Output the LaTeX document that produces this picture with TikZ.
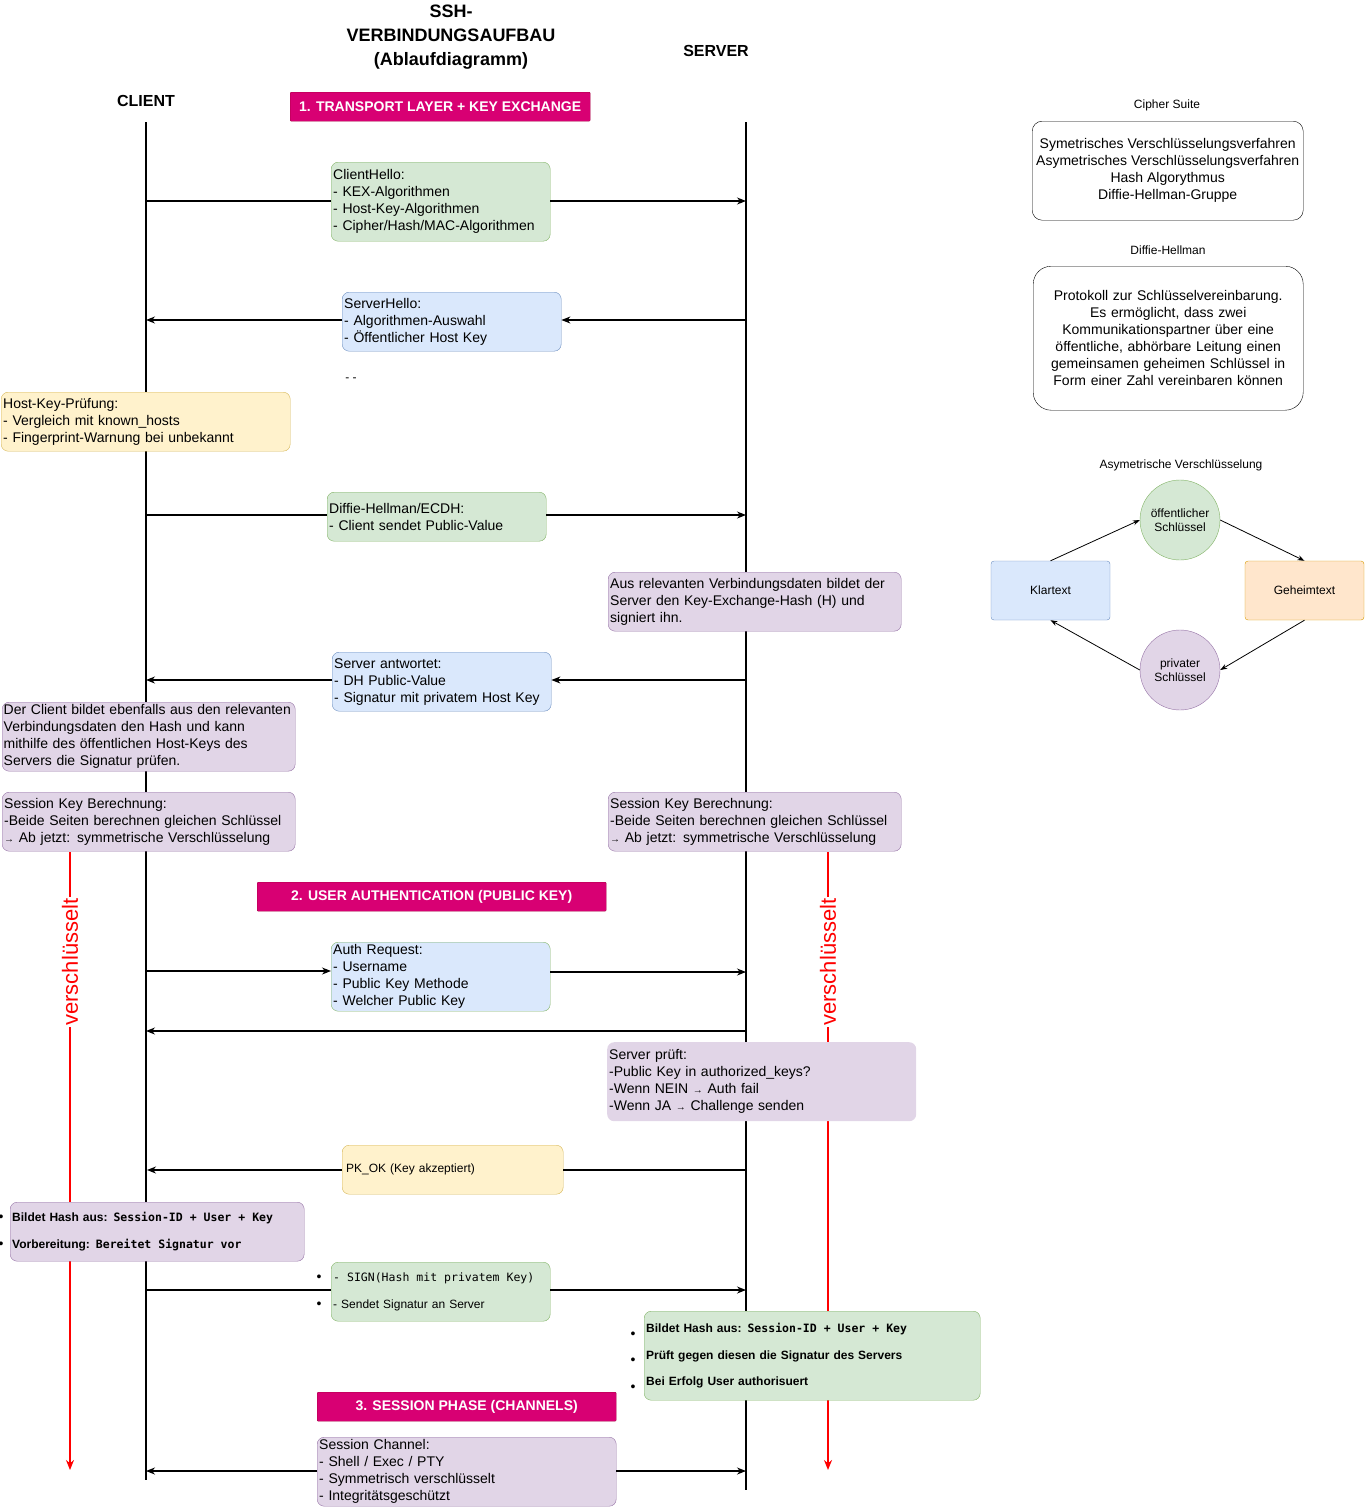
\documentclass[tikz,border=0pt]{standalone}
\usepackage{fontspec}
\setmainfont{Liberation Sans}
\setmonofont{DejaVu Sans Mono}
\usetikzlibrary{arrows.meta}
\hyphenpenalty=10000 \exhyphenpenalty=10000
\definecolor{gF}{HTML}{D5E8D4}\definecolor{gS}{HTML}{82B366}
\definecolor{bF}{HTML}{DAE8FC}\definecolor{bS}{HTML}{6C8EBF}
\definecolor{yF}{HTML}{FFF2CC}\definecolor{yS}{HTML}{D6B656}
\definecolor{pF}{HTML}{E1D5E7}\definecolor{pS}{HTML}{9673A6}
\definecolor{oF}{HTML}{FFE6CC}\definecolor{oS}{HTML}{D79B00}
\definecolor{mF}{HTML}{D80073}\definecolor{mS}{HTML}{A50040}
\newcommand\ar{{\fontsize{10}{10}\selectfont→}}
\newcommand\mt[1]{{\ttfamily\fontsize{11.5}{12}\selectfont #1}}
\newcommand\msp{\hspace{7pt}}
\begin{document}
\begin{tikzpicture}[x=1pt,y=-1pt,
 every node/.style={font=\fontsize{14}{17}\selectfont},
 box/.style={draw,rounded corners=7pt,anchor=north west,align=left,inner xsep=1.5pt,inner ysep=0pt},
 G/.style={box,fill=gF,draw=gS},B/.style={box,fill=bF,draw=bS},Y/.style={box,fill=yF,draw=yS},
 P/.style={box,fill=pF,draw=pS},
 H/.style={draw=mS,fill=mF,text=white,anchor=north west,inner sep=0pt,rounded corners=1pt,font=\bfseries\fontsize{14}{17}\selectfont},
 life/.style={line width=1.2pt},
 arr/.style={line width=1.2pt,-{Stealth[length=9pt,width=7pt]}},
 ln/.style={line width=1.2pt},
 red/.style={draw=red,line width=1.8pt,-{Stealth[length=10pt,width=8pt]}},
 sm/.style={font=\fontsize{12}{14}\selectfont},
 rl/.style={line width=0.8pt,-{Stealth[length=7pt,width=5pt]}}]
\useasboundingbox (0,0) rectangle (1365,1507);
\node[font=\bfseries\fontsize{18}{24}\selectfont,align=center] (title) at (451,37) {SSH-\\VERBINDUNGSAUFBAU\\(Ablaufdiagramm)};
\node[font=\bfseries\fontsize{16}{20}\selectfont] (srvT) at (716,51) {SERVER};
\node[font=\bfseries\fontsize{16}{20}\selectfont] (cliT) at (146,101) {CLIENT};
\coordinate (c0) at (146,122); \coordinate (c1) at (146,1480);
\coordinate (s0) at (746,122); \coordinate (s1) at (746,1490);
\draw[life] (c0)--(c1); \draw[life] (s0)--(s1);
\node[H,minimum width=300,minimum height=29] (h1) at (290,92) {1. TRANSPORT LAYER + KEY EXCHANGE};
\node[H,minimum width=349,minimum height=29] (h2) at (257,882) {2. USER AUTHENTICATION (PUBLIC KEY)};
\node[H,minimum width=299,minimum height=29] (h3) at (317,1392) {3. SESSION PHASE (CHANNELS)};
\coordinate (rl0) at (70,852); \coordinate (rl1) at (70,1470);
\coordinate (rr0) at (828,852); \coordinate (rr1) at (828,1470);
\draw[red] (rl0)--(rl1); \draw[red] (rr0)--(rr1);
\node[fill=white,text=red,rotate=90,inner sep=1pt,font=\fontsize{22}{24}\selectfont] (v1) at (70,962) {verschlüsselt};
\node[fill=white,text=red,rotate=90,inner sep=1pt,font=\fontsize{22}{24}\selectfont] (v2) at (828,962) {verschlüsselt};
\node[G,minimum width=219,minimum height=79,text width=215] (ch) at (331,162) {ClientHello:\\- KEX-Algorithmen\\- Host-Key-Algorithmen\\- Cipher/Hash/MAC-Algorithmen};
\node[B,minimum width=219,minimum height=59,text width=215] (sh) at (342,292) {ServerHello:\\- Algorithmen-Auswahl\\- Öffentlicher Host Key};
\node[sm] (dd) at (351,380) {- -};
\node[Y,minimum width=289,minimum height=59,text width=285] (hk) at (1,392) {Host-Key-Prüfung:\\- Vergleich mit known\_hosts\\- Fingerprint-Warnung bei unbekannt};
\node[G,minimum width=219,minimum height=49,text width=215] (dh) at (327,492) {Diffie-Hellman/ECDH:\\- Client sendet Public-Value};
\node[P,minimum width=293,minimum height=59,text width=289] (kh) at (608,572) {Aus relevanten Verbindungsdaten bildet der Server den Key-Exchange-Hash (H) und signiert ihn.};
\node[B,minimum width=219,minimum height=59,text width=215] (sa) at (332,652) {Server antwortet:\\- DH Public-Value\\- Signatur mit privatem Host Key};
\node[P,minimum width=293,minimum height=69,text width=290] (cv) at (2,702) {Der Client bildet ebenfalls aus den relevanten Verbindungsdaten den Hash und kann mithilfe des öffentlichen Host-Keys des Servers die Signatur prüfen.};
\node[P,minimum width=293,minimum height=59,text width=289] (skl) at (2,792) {Session Key Berechnung:\\-Beide Seiten berechnen gleichen Schlüssel\\\ar{} Ab jetzt: symmetrische Verschlüsselung};
\node[P,minimum width=293,minimum height=59,text width=289] (skr) at (608,792) {Session Key Berechnung:\\-Beide Seiten berechnen gleichen Schlüssel\\\ar{} Ab jetzt: symmetrische Verschlüsselung};
\node[box,fill=bF,draw=gS,minimum width=219,minimum height=69,text width=215] (ar) at (331,942) {Auth Request:\\- Username\\- Public Key Methode\\- Welcher Public Key};
\node[box,fill=pF,draw=none,minimum width=309,minimum height=79,text width=305] (sp) at (607,1042) {Server prüft:\\-Public Key in authorized\_keys?\\-Wenn NEIN \ar{} Auth fail\\-Wenn JA \ar{} Challenge senden};
\node[Y,minimum width=219,minimum height=49,text width=213,inner xsep=4pt,font=\fontsize{12}{14}\selectfont] (pk) at (342,1145) {PK\_OK (Key akzeptiert)};
\node[P,minimum width=294,minimum height=59,text width=290,font=\bfseries\fontsize{12}{27}\selectfont] (bh) at (10,1202) {Bildet Hash aus: \mt{Session-ID\msp+\msp User\msp+\msp Key}\\Vorbereitung: \mt{Bereitet\msp Signatur\msp vor}};
\node[G,minimum width=219,minimum height=59,text width=215,font=\fontsize{12}{27}\selectfont] (sg) at (331,1262) {\mt{-\msp SIGN(Hash\msp mit\msp privatem\msp Key)}\\- Sendet Signatur an Server};
\node[G,minimum width=336,minimum height=89,text width=332,font=\bfseries\fontsize{12}{26.5}\selectfont] (pr) at (644,1311) {Bildet Hash aus: \mt{Session-ID\msp+\msp User\msp+\msp Key}\\Prüft gegen diesen die Signatur des Servers\\Bei Erfolg User authorisuert};
\node[P,minimum width=299,minimum height=69,text width=295] (sc) at (317,1437) {Session Channel:\\- Shell / Exec / PTY\\- Symmetrisch verschlüsselt\\- Integritätsgeschützt};
\foreach \n/\x/\y in {b1/1/1218,b2/1/1245,b3/319/1278,b4/319/1305,b5/633/1335,b6/633/1361,b7/633/1388}
  \node[font=\fontsize{14}{14}\selectfont,inner sep=0pt] (\n) at (\x,\y) {•};
\coordinate (a1c) at (146,201); \coordinate (a1s) at (746,201);
\draw[ln] (a1c)--(ch.west|-a1c); \draw[arr] (ch.east|-a1c)--(a1s);
\coordinate (a2s) at (746,320); \coordinate (a2c) at (146,320);
\draw[arr] (a2s)--(sh.east|-a2s); \draw[arr] (sh.west|-a2c)--(a2c);
\coordinate (a3c) at (146,515); \coordinate (a3s) at (746,515);
\draw[ln] (a3c)--(dh.west|-a3c); \draw[arr] (dh.east|-a3s)--(a3s);
\coordinate (a4s) at (746,680); \coordinate (a4c) at (146,680);
\draw[arr] (a4s)--(sa.east|-a4s); \draw[arr] (sa.west|-a4c)--(a4c);
\coordinate (a5c) at (146,971); \coordinate (a5s) at (746,972);
\draw[arr] (a5c)--(ar.west|-a5c); \draw[arr] (ar.east|-a5s)--(a5s);
\coordinate (a6s) at (746,1031); \coordinate (a6c) at (146,1031);
\draw[arr] (a6s)--(a6c);
\coordinate (a7s) at (746,1170); \coordinate (a7c) at (147,1170);
\draw[ln] (a7s)--(pk.east|-a7s); \draw[arr] (pk.west|-a7c)--(a7c);
\coordinate (a8c) at (146,1290); \coordinate (a8s) at (746,1290);
\draw[ln] (a8c)--(sg.west|-a8c); \draw[arr] (sg.east|-a8s)--(a8s);
\coordinate (a9c) at (146,1471); \coordinate (a9s) at (746,1471);
\draw[arr] (sc.west|-a9c)--(a9c); \draw[arr] (sc.east|-a9s)--(a9s);
\node[sm] (cst) at (1167,105) {Cipher Suite};
\node[draw,rounded corners=10pt,minimum width=271,minimum height=99,align=center,anchor=north west,inner sep=0pt] (cs) at (1032,121) {Symetrisches Verschlüsselungsverfahren\\Asymetrisches Verschlüsselungsverfahren\\Hash Algorythmus\\Diffie-Hellman-Gruppe};
\node[sm] (dht) at (1168,250) {Diffie-Hellman};
\node[draw,rounded corners=18pt,minimum width=270,minimum height=144,text width=240,align=center,anchor=north west,inner xsep=8pt,inner ysep=0pt] (dhb) at (1033,266) {Protokoll zur Schlüsselvereinbarung. Es ermöglicht, dass zwei Kommunikationspartner über eine öffentliche, abhörbare Leitung einen gemeinsamen geheimen Schlüssel in Form einer Zahl vereinbaren können};
\node[sm] (ast) at (1181,465) {Asymetrische Verschlüsselung};
\node[circle,draw=gS,fill=gF,minimum size=80,inner sep=0pt,align=center,sm] (oe) at (1180,520) {öffentlicher\\Schlüssel};
\node[circle,draw=pS,fill=pF,minimum size=80,inner sep=0pt,align=center,sm] (pv) at (1180,670) {privater\\Schlüssel};
\node[draw=bS,fill=bF,rounded corners=3pt,minimum width=119,minimum height=59,sm] (kl) at (1050.5,590.5) {Klartext};
\node[draw=oS,fill=oF,rounded corners=3pt,minimum width=119,minimum height=59,sm] (gh) at (1304.5,590.5) {Geheimtext};
\draw[rl] (kl.north)--(oe.west);
\draw[rl] (oe.east)--(gh.north);
\draw[rl] (gh.south)--(pv.east);
\draw[rl] (pv.west)--(kl.south);
\end{tikzpicture}
\end{document}
